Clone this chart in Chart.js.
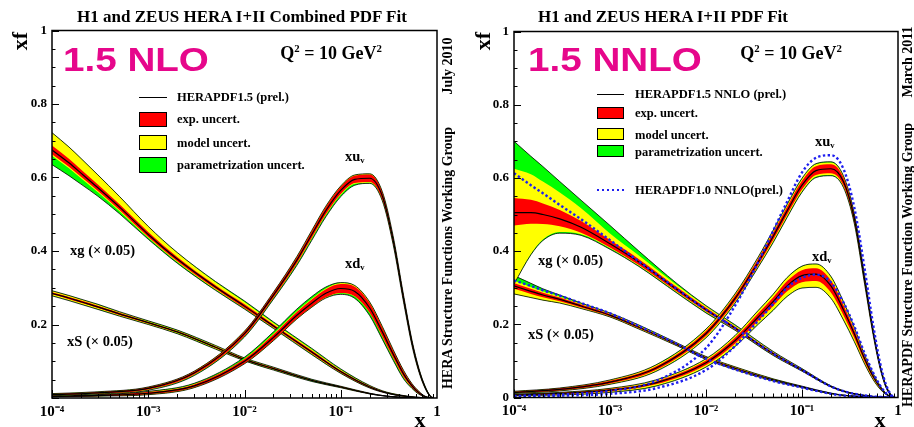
<!DOCTYPE html>
<html>
<head>
<meta charset="utf-8">
<title>HERAPDF1.5 NLO / NNLO</title>
<script src="https://cdn.jsdelivr.net/npm/chart.js@4.4.1/dist/chart.umd.min.js"></script>
<style>
  html, body { margin: 0; padding: 0; background: #fff; }
  #page { position: relative; width: 914px; height: 427px; overflow: hidden;
          font-family: "Liberation Serif", "Times New Roman", serif; font-weight: bold; color: #000; }
  #page canvas { position: absolute; top: 0; }
  .t { position: absolute; white-space: nowrap; line-height: 1; }
  .mid { transform: translate(-50%, -50%); }
  .lft { transform: translateY(-50%); }
  .rot { transform: translate(-50%, -50%) rotate(-90deg); }
  .ttl { font-size: 17px; }
  .big { font-family: "Liberation Sans", Arial, sans-serif; font-size: 33px; color: #e6078b;
         transform: translateY(-50%) scaleX(1.17); transform-origin: left center; }
  .q2 { font-size: 18px; }
  .leg { font-size: 12.5px; }
  .lab { font-size: 14.5px; }
  .axt { font-size: 22px; }
  .side { font-size: 14px; }
  sup { font-size: 0.6em; vertical-align: 0.65em; line-height: 0; }
  .sub { font-size: 0.6em; vertical-align: -0.3em; line-height: 0; }
  .box { position: absolute; box-sizing: border-box; border: 1px solid #000; }
  .ln { position: absolute; height: 1.3px; background: #000; }
  .dot { position: absolute; height: 2.5px;
         background: repeating-linear-gradient(90deg, #1e1ef0 0 2.5px, transparent 2.5px 5px); }
</style>
</head>
<body>
<div id="page">
  <canvas id="nlo" width="457" height="427" style="left:0"></canvas>
  <canvas id="nnlo" width="457" height="427" style="left:457px"></canvas>

  <!-- left panel text -->
  <div class="t ttl mid" style="left:242px;top:16px">H1 and ZEUS HERA I+II Combined PDF Fit</div>
  <div class="t axt rot" style="left:20px;top:41px">xf</div>
  <div class="t big" style="left:63px;top:59px">1.5 NLO</div>
  <div class="t q2 mid" style="left:331px;top:53px">Q<sup>2</sup> = 10 GeV<sup>2</sup></div>
  <div class="ln" style="left:139px;top:96.5px;width:28px"></div>
  <div class="t leg lft" style="left:177px;top:97px">HERAPDF1.5 (prel.)</div>
  <div class="box" style="left:139px;top:112px;width:28px;height:15px;background:#ff0000"></div>
  <div class="t leg lft" style="left:177px;top:119px">exp. uncert.</div>
  <div class="box" style="left:139px;top:135px;width:28px;height:15px;background:#ffff00"></div>
  <div class="t leg lft" style="left:177px;top:143px">model uncert.</div>
  <div class="box" style="left:139px;top:157px;width:28px;height:16px;background:#00ff00"></div>
  <div class="t leg lft" style="left:177px;top:165px">parametrization uncert.</div>
  <div class="t lab lft" style="left:345px;top:156px">xu<span class="sub">v</span></div>
  <div class="t lab lft" style="left:345px;top:263px">xd<span class="sub">v</span></div>
  <div class="t lab lft" style="left:70px;top:250px">xg (× 0.05)</div>
  <div class="t lab lft" style="left:67px;top:341px">xS (× 0.05)</div>
  <div class="t side rot" style="left:448px;top:66px">July 2010</div>
  <div class="t side rot" style="left:448px;top:258px">HERA Structure Functions Working Group</div>
  <div class="t axt mid" style="left:420px;top:419.5px">x</div>

  <!-- right panel text -->
  <div class="t ttl mid" style="left:663px;top:16px">H1 and ZEUS HERA I+II PDF Fit</div>
  <div class="t axt rot" style="left:483px;top:41px">xf</div>
  <div class="t big" style="left:528px;top:59px">1.5 NNLO</div>
  <div class="t q2 mid" style="left:791px;top:53px">Q<sup>2</sup> = 10 GeV<sup>2</sup></div>
  <div class="ln" style="left:597px;top:93.5px;width:27px"></div>
  <div class="t leg lft" style="left:635px;top:94px">HERAPDF1.5 NNLO (prel.)</div>
  <div class="box" style="left:597px;top:106.5px;width:27px;height:12.5px;background:#ff0000"></div>
  <div class="t leg lft" style="left:635px;top:113px">exp. uncert.</div>
  <div class="box" style="left:597px;top:127.5px;width:27px;height:12.5px;background:#ffff00"></div>
  <div class="t leg lft" style="left:635px;top:135px">model uncert.</div>
  <div class="box" style="left:597px;top:144.5px;width:27px;height:12.5px;background:#00ff00"></div>
  <div class="t leg lft" style="left:635px;top:152px">parametrization uncert.</div>
  <div class="dot" style="left:597px;top:188.5px;width:27px"></div>
  <div class="t leg lft" style="left:635px;top:190px">HERAPDF1.0 NNLO(prel.)</div>
  <div class="t lab lft" style="left:815px;top:141px">xu<span class="sub">v</span></div>
  <div class="t lab lft" style="left:812px;top:256px">xd<span class="sub">v</span></div>
  <div class="t lab lft" style="left:538px;top:260px">xg (× 0.05)</div>
  <div class="t lab lft" style="left:528px;top:334px">xS (× 0.05)</div>
  <div class="t side rot" style="left:908px;top:62px">March 2011</div>
  <div class="t side rot" style="left:908px;top:265px">HERAPDF Structure Function Working Group</div>
  <div class="t axt mid" style="left:880px;top:419.5px">x</div>
</div>

<script>
// x grids (sea/gluon curves and valence curves)
var X_SEA = [1e-4, 1.5e-4, 2e-4, 3e-4, 5e-4, 1e-3, 2e-3, 5e-3, 0.01, 0.02, 0.05, 0.1, 0.2, 0.3, 0.5, 0.7, 0.9];
var X_VAL = [1e-4, 3e-4, 1e-3, 3e-3, 0.01, 0.02, 0.035, 0.05, 0.07, 0.1, 0.14, 0.2, 0.27, 0.35, 0.45, 0.55, 0.65, 0.75, 0.85, 0.93];
var NO_SEA = [0, 0, 0, 0, 0, 0, 0, 0, 0, 0, 0, 0, 0, 0, 0, 0, 0];
var NO_VAL = [0, 0, 0, 0, 0, 0, 0, 0, 0, 0, 0, 0, 0, 0, 0, 0, 0, 0, 0, 0];

var X_TICKS = [1e-4, 1e-3, 1e-2, 1e-1, 1];
var X_TICK_LABELS = ['10⁻⁴', '10⁻³', '10⁻²', '10⁻¹', '1'];
var Y_TICKS = [0, 0.2, 0.4, 0.6, 0.8, 1];
var Y_LABELS_NLO = ['', '0.2', '0.4', '0.6', '0.8', '1'];
var Y_LABELS_NNLO = ['0', '0.2', '0.4', '0.6', '0.8', '1'];

// ---- HERAPDF1.5 NLO (left) ----
var NLO_XG      = [0.675, 0.64, 0.612, 0.572, 0.52, 0.445, 0.378, 0.302, 0.25, 0.196, 0.125, 0.072, 0.03, 0.014, 0.004, 0.001, 0];
var NLO_XG_EXP  = [0.012, 0.011, 0.01, 0.009, 0.008, 0.007, 0.006, 0.005, 0.005, 0.004, 0.004, 0.003, 0.002, 0.001, 0.001, 0, 0];
var NLO_XG_MUP  = [0.035, 0.032, 0.03, 0.026, 0.021, 0.015, 0.011, 0.008, 0.006, 0.004, 0.003, 0.002, 0.001, 0.001, 0, 0, 0];
var NLO_XG_MDN  = [0.004, 0.004, 0.004, 0.003, 0.003, 0.002, 0.002, 0.002, 0.001, 0.001, 0.001, 0.001, 0.001, 0, 0, 0, 0];
var NLO_XG_PUP  = [0, 0, 0, 0, 0, 0, 0.001, 0.002, 0.003, 0.003, 0.003, 0.002, 0.001, 0, 0, 0, 0];
var NLO_XG_PDN  = [0.024, 0.02, 0.016, 0.011, 0.007, 0.004, 0.003, 0.002, 0.002, 0.002, 0.002, 0.001, 0, 0, 0, 0, 0];

var NLO_XS      = [0.285, 0.272, 0.262, 0.248, 0.229, 0.205, 0.18, 0.138, 0.105, 0.08, 0.048, 0.03, 0.012, 0.005, 0.001, 0, 0];
var NLO_XS_EXP  = [0.003, 0.003, 0.003, 0.003, 0.003, 0.002, 0.002, 0.002, 0.002, 0.002, 0.001, 0.001, 0.001, 0, 0, 0, 0];
var NLO_XS_MOD  = [0.003, 0.003, 0.003, 0.003, 0.002, 0.002, 0.002, 0.002, 0.001, 0.001, 0.001, 0.001, 0, 0, 0, 0, 0];
var NLO_XS_PAR  = [0.001, 0.001, 0.001, 0.001, 0.001, 0.001, 0.001, 0.001, 0.001, 0.001, 0.001, 0, 0, 0, 0, 0, 0];

var NLO_XUV     = [0.009, 0.014, 0.026, 0.068, 0.175, 0.28, 0.375, 0.445, 0.51, 0.565, 0.595, 0.598, 0.55, 0.43, 0.27, 0.15, 0.075, 0.03, 0.005, 0];
var NLO_XUV_EXP = [0.002, 0.002, 0.003, 0.004, 0.006, 0.007, 0.008, 0.009, 0.01, 0.01, 0.01, 0.01, 0.01, 0.009, 0.008, 0.006, 0.004, 0.002, 0.001, 0];
var NLO_XUV_MOD = [0.001, 0.001, 0.001, 0.001, 0.001, 0.001, 0.002, 0.002, 0.002, 0.002, 0.002, 0.002, 0.002, 0.002, 0.001, 0.001, 0.001, 0.001, 0, 0];
var NLO_XUV_PDN = [0, 0, 0.001, 0.002, 0.002, 0.003, 0.004, 0.005, 0.005, 0.005, 0.004, 0.002, 0.001, 0.001, 0.001, 0.001, 0, 0, 0, 0];

var NLO_XDV     = [0.004, 0.007, 0.013, 0.033, 0.1, 0.165, 0.225, 0.258, 0.285, 0.298, 0.29, 0.245, 0.18, 0.12, 0.065, 0.033, 0.014, 0.004, 0.001, 0];
var NLO_XDV_EXP = [0.001, 0.002, 0.003, 0.004, 0.006, 0.008, 0.009, 0.01, 0.011, 0.012, 0.013, 0.013, 0.012, 0.01, 0.008, 0.005, 0.003, 0.001, 0, 0];
var NLO_XDV_MUP = [0, 0, 0.001, 0.001, 0.001, 0.002, 0.002, 0.002, 0.002, 0.003, 0.003, 0.003, 0.003, 0.002, 0.002, 0.001, 0.001, 0, 0, 0];
var NLO_XDV_MDN = [0, 0, 0.001, 0.001, 0.001, 0.001, 0.001, 0.001, 0.001, 0.001, 0.001, 0.001, 0.001, 0.001, 0.001, 0, 0, 0, 0, 0];
var NLO_XDV_PUP = [0, 0, 0.001, 0.002, 0.004, 0.005, 0.006, 0.006, 0.004, 0.001, 0, 0, 0, 0, 0, 0, 0, 0, 0, 0];
var NLO_XDV_PDN = [0, 0, 0, 0, 0, 0, 0, 0, 0.001, 0.003, 0.005, 0.007, 0.007, 0.006, 0.004, 0.002, 0.001, 0, 0, 0];

// ---- HERAPDF1.5 NNLO (right) ----
var NNLO_XG     = [0.505, 0.505, 0.5, 0.488, 0.465, 0.42, 0.37, 0.295, 0.24, 0.19, 0.12, 0.075, 0.03, 0.014, 0.004, 0.001, 0];
var NNLO_XG_EUP = [0.04, 0.035, 0.03, 0.024, 0.017, 0.01, 0.008, 0.006, 0.005, 0.004, 0.003, 0.002, 0.001, 0.001, 0, 0, 0];
var NNLO_XG_EDN = [0.035, 0.03, 0.026, 0.02, 0.015, 0.01, 0.008, 0.006, 0.005, 0.004, 0.003, 0.002, 0.001, 0.001, 0, 0, 0];
var NNLO_XG_MUP = [0.08, 0.07, 0.06, 0.048, 0.035, 0.018, 0.01, 0.006, 0.004, 0.003, 0.002, 0.001, 0.001, 0, 0, 0, 0];
var NNLO_XG_MDN = [0.16, 0.083, 0.042, 0.016, 0.004, 0.002, 0.002, 0.002, 0.002, 0.001, 0.001, 0.001, 0, 0, 0, 0, 0];
var NNLO_XG_PUP = [0.075, 0.049, 0.041, 0.03, 0.022, 0.022, 0.012, 0.004, 0.002, 0.002, 0.001, 0.001, 0, 0, 0, 0, 0];
var NNLO_XG_PDN = [0, 0.002, 0.003, 0.003, 0.003, 0.003, 0.002, 0.002, 0.002, 0.001, 0.001, 0, 0, 0, 0, 0, 0];
var NNLO_XG_V10 = [0.613, 0.58, 0.558, 0.526, 0.487, 0.43, 0.372, 0.296, 0.24, 0.19, 0.12, 0.075, 0.03, 0.014, 0.004, 0.001, 0];

var NNLO_XS     = [0.305, 0.29, 0.28, 0.268, 0.25, 0.225, 0.192, 0.145, 0.108, 0.08, 0.048, 0.029, 0.011, 0.005, 0.001, 0, 0];
var NNLO_XS_EXP = [0.008, 0.007, 0.006, 0.005, 0.004, 0.003, 0.003, 0.002, 0.002, 0.002, 0.001, 0.001, 0, 0, 0, 0, 0];
var NNLO_XS_MUP = [0.006, 0.005, 0.004, 0.003, 0.002, 0.002, 0.002, 0.002, 0.002, 0.002, 0.002, 0.001, 0.001, 0, 0, 0, 0];
var NNLO_XS_MDN = [0.014, 0.01, 0.008, 0.005, 0.003, 0.002, 0.002, 0.002, 0.002, 0.002, 0.002, 0.001, 0.001, 0, 0, 0, 0];
var NNLO_XS_PUP = [0.014, 0.01, 0.007, 0.004, 0.002, 0.001, 0.001, 0, 0, 0, 0, 0, 0, 0, 0, 0, 0];
var NNLO_XS_V10 = [0.32, 0.305, 0.293, 0.278, 0.258, 0.23, 0.195, 0.146, 0.106, 0.077, 0.045, 0.027, 0.01, 0.004, 0.001, 0, 0];

var NNLO_XUV     = [0.014, 0.022, 0.042, 0.08, 0.175, 0.27, 0.37, 0.44, 0.51, 0.58, 0.62, 0.625, 0.59, 0.49, 0.32, 0.18, 0.085, 0.03, 0.006, 0];
var NNLO_XUV_EXP = [0.002, 0.003, 0.004, 0.005, 0.007, 0.008, 0.009, 0.01, 0.011, 0.012, 0.012, 0.012, 0.011, 0.01, 0.008, 0.006, 0.004, 0.002, 0.001, 0];
var NNLO_XUV_MOD = [0.001, 0.001, 0.002, 0.003, 0.004, 0.004, 0.004, 0.005, 0.005, 0.005, 0.005, 0.005, 0.004, 0.003, 0.003, 0.002, 0.001, 0.001, 0, 0];
var NNLO_XUV_PAR = [0, 0, 0, 0.001, 0.001, 0.001, 0.001, 0.002, 0.002, 0.002, 0.002, 0.002, 0.001, 0.001, 0.001, 0, 0, 0, 0, 0];
var NNLO_XUV_V10 = [0.004, 0.008, 0.018, 0.045, 0.135, 0.25, 0.37, 0.455, 0.535, 0.615, 0.655, 0.662, 0.625, 0.52, 0.35, 0.2, 0.095, 0.035, 0.007, 0];

var NNLO_XDV     = [0.007, 0.011, 0.02, 0.04, 0.095, 0.155, 0.22, 0.262, 0.305, 0.333, 0.337, 0.305, 0.24, 0.175, 0.105, 0.058, 0.028, 0.01, 0.002, 0];
var NNLO_XDV_EUP = [0.001, 0.002, 0.003, 0.004, 0.006, 0.008, 0.01, 0.011, 0.013, 0.015, 0.016, 0.015, 0.013, 0.01, 0.007, 0.005, 0.003, 0.001, 0, 0];
var NNLO_XDV_EDN = [0.001, 0.002, 0.003, 0.004, 0.006, 0.008, 0.01, 0.012, 0.015, 0.018, 0.019, 0.018, 0.015, 0.012, 0.008, 0.005, 0.003, 0.001, 0, 0];
var NNLO_XDV_MUP = [0.001, 0.001, 0.002, 0.003, 0.004, 0.005, 0.007, 0.008, 0.009, 0.01, 0.011, 0.01, 0.008, 0.006, 0.004, 0.003, 0.002, 0.001, 0, 0];
var NNLO_XDV_MDN = [0.001, 0.002, 0.003, 0.004, 0.005, 0.007, 0.009, 0.011, 0.013, 0.015, 0.016, 0.015, 0.012, 0.009, 0.006, 0.004, 0.002, 0.001, 0, 0];
var NNLO_XDV_PAR = [0, 0, 0, 0.001, 0.001, 0.001, 0.001, 0.001, 0.001, 0.001, 0.001, 0.001, 0.001, 0.001, 0, 0, 0, 0, 0, 0];
var NNLO_XDV_V10 = [0.003, 0.005, 0.01, 0.025, 0.075, 0.14, 0.21, 0.255, 0.3, 0.327, 0.336, 0.315, 0.26, 0.195, 0.12, 0.068, 0.033, 0.012, 0.003, 0];

var RED = '#ff0000', YELLOW = '#ffff00', GREEN = '#00ff00', BLUE = '#1e1ef0';
var FONT = '"Liberation Serif", "Times New Roman", serif';

(function () {
  // band edge = central +/- sum of the uncertainty parts
  function edge(xs, c, parts, sign) {
    return xs.map(function (x, i) {
      var d = 0;
      parts.forEach(function (p) { d += p[i]; });
      return { x: x, y: c[i] + sign * d };
    });
  }

  function line(data, color, width, order, extra) {
    var ds = {
      data: data, borderColor: color, borderWidth: width, pointRadius: 0,
      fill: false, order: order, cubicInterpolationMode: 'monotone'
    };
    if (extra) Object.keys(extra).forEach(function (k) { ds[k] = extra[k]; });
    return ds;
  }

  function addCurve(sets, p, z) {
    var b = sets.length;
    var hiG = edge(p.x, p.c, [p.eUp, p.mUp, p.pUp], 1);
    var loG = edge(p.x, p.c, [p.eDn, p.mDn, p.pDn], -1);
    sets.push(line(hiG, 'rgba(0,0,0,0)', 0, z + 3));
    sets.push(line(loG, 'rgba(0,0,0,0)', 0, z + 3, { fill: b, backgroundColor: GREEN }));
    sets.push(line(edge(p.x, p.c, [p.eUp, p.mUp], 1), 'rgba(0,0,0,0)', 0, z + 2));
    sets.push(line(edge(p.x, p.c, [p.eDn, p.mDn], -1), 'rgba(0,0,0,0)', 0, z + 2, { fill: b + 2, backgroundColor: YELLOW }));
    sets.push(line(edge(p.x, p.c, [p.eUp], 1), 'rgba(0,0,0,0)', 0, z + 1));
    sets.push(line(edge(p.x, p.c, [p.eDn], -1), 'rgba(0,0,0,0)', 0, z + 1, { fill: b + 4, backgroundColor: RED }));
    sets.push(line(hiG, '#000', 0.8, z));
    sets.push(line(loG, '#000', 0.8, z));
    sets.push(line(edge(p.x, p.c, [], 1), '#000', 1.2, z));
  }

  function addDotted(sets, xs, v) {
    sets.push(line(edge(xs, v, [], 1), BLUE, 2.4, 0, { borderDash: [2.4, 2.4] }));
  }

  var framePlugin = {
    id: 'frame',
    afterDatasetsDraw: function (chart) {
      var ctx = chart.ctx, a = chart.chartArea;
      var xs = chart.scales.x, ys = chart.scales.y;
      ctx.save();
      ctx.strokeStyle = '#000';
      ctx.lineWidth = 1;
      ctx.beginPath();
      for (var k = -4; k < 0; k++) {
        for (var m = 1; m < 10; m++) {
          var px = Math.round(xs.getPixelForValue(m * Math.pow(10, k))) + 0.5;
          ctx.moveTo(px, a.bottom);
          ctx.lineTo(px, a.bottom - (m === 1 ? 8 : 4));
        }
      }
      for (var j = 0; j <= 20; j++) {
        var py = Math.round(ys.getPixelForValue(j * 0.05)) + 0.5;
        ctx.moveTo(a.left, py);
        ctx.lineTo(a.left + (j % 4 === 0 ? 7 : 3.5), py);
      }
      ctx.stroke();
      ctx.lineWidth = 1.5;
      ctx.strokeRect(a.left, a.top, a.right - a.left, a.bottom - a.top);
      ctx.restore();
    }
  };

  function makePanel(id, curves, dotted, cfg) {
    var sets = [];
    curves.forEach(function (p, i) { addCurve(sets, p, 40 - i * 10); });
    dotted.forEach(function (d) { addDotted(sets, d[0], d[1]); });

    return new Chart(document.getElementById(id), {
      type: 'line',
      data: { datasets: sets },
      plugins: [framePlugin],
      options: {
        responsive: false,
        animation: false,
        devicePixelRatio: 1,
        layout: { padding: { top: cfg.top, right: cfg.right, left: 0, bottom: 0 } },
        plugins: { legend: { display: false }, tooltip: { enabled: false } },
        scales: {
          x: {
            type: 'logarithmic', min: 1e-4, max: 1,
            afterFit: function (s) { s.height = cfg.xh; },
            afterBuildTicks: function (s) { s.ticks = X_TICKS.map(function (v) { return { value: v }; }); },
            ticks: {
              callback: function (v, i) { return X_TICK_LABELS[i]; },
              font: { family: FONT, size: 15, weight: 'bold' }, color: '#000',
              padding: 5, maxRotation: 0, autoSkip: false
            },
            grid: { display: false, drawTicks: false },
            border: { display: false }
          },
          y: {
            min: 0, max: 1,
            afterFit: function (s) { s.width = cfg.yw; },
            afterBuildTicks: function (s) { s.ticks = Y_TICKS.map(function (v) { return { value: v }; }); },
            ticks: {
              callback: function (v, i) { return cfg.yLabels[i]; },
              font: { family: FONT, size: 13, weight: 'bold' }, color: '#000',
              padding: 5, autoSkip: false
            },
            grid: { display: false, drawTicks: false },
            border: { display: false }
          }
        }
      }
    });
  }

  makePanel('nlo', [
    { x: X_SEA, c: NLO_XS, eUp: NLO_XS_EXP, eDn: NLO_XS_EXP, mUp: NLO_XS_MOD, mDn: NLO_XS_MOD, pUp: NLO_XS_PAR, pDn: NLO_XS_PAR },
    { x: X_SEA, c: NLO_XG, eUp: NLO_XG_EXP, eDn: NLO_XG_EXP, mUp: NLO_XG_MUP, mDn: NLO_XG_MDN, pUp: NLO_XG_PUP, pDn: NLO_XG_PDN },
    { x: X_VAL, c: NLO_XDV, eUp: NLO_XDV_EXP, eDn: NLO_XDV_EXP, mUp: NLO_XDV_MUP, mDn: NLO_XDV_MDN, pUp: NLO_XDV_PUP, pDn: NLO_XDV_PDN },
    { x: X_VAL, c: NLO_XUV, eUp: NLO_XUV_EXP, eDn: NLO_XUV_EXP, mUp: NLO_XUV_MOD, mDn: NLO_XUV_MOD, pUp: NO_VAL, pDn: NLO_XUV_PDN }
  ], [], { top: 30.5, right: 20, yw: 52, xh: 29, yLabels: Y_LABELS_NLO });

  makePanel('nnlo', [
    { x: X_SEA, c: NNLO_XS, eUp: NNLO_XS_EXP, eDn: NNLO_XS_EXP, mUp: NNLO_XS_MUP, mDn: NNLO_XS_MDN, pUp: NNLO_XS_PUP, pDn: NO_SEA },
    { x: X_SEA, c: NNLO_XG, eUp: NNLO_XG_EUP, eDn: NNLO_XG_EDN, mUp: NNLO_XG_MUP, mDn: NNLO_XG_MDN, pUp: NNLO_XG_PUP, pDn: NNLO_XG_PDN },
    { x: X_VAL, c: NNLO_XDV, eUp: NNLO_XDV_EUP, eDn: NNLO_XDV_EDN, mUp: NNLO_XDV_MUP, mDn: NNLO_XDV_MDN, pUp: NNLO_XDV_PAR, pDn: NNLO_XDV_PAR },
    { x: X_VAL, c: NNLO_XUV, eUp: NNLO_XUV_EXP, eDn: NNLO_XUV_EXP, mUp: NNLO_XUV_MOD, mDn: NNLO_XUV_MOD, pUp: NNLO_XUV_PAR, pDn: NNLO_XUV_PAR }
  ], [
    [X_SEA, NNLO_XS_V10], [X_SEA, NNLO_XG_V10], [X_VAL, NNLO_XDV_V10], [X_VAL, NNLO_XUV_V10]
  ], { top: 31.5, right: 16, yw: 57, xh: 29.5, yLabels: Y_LABELS_NNLO });
})();
</script>
</body>
</html>
